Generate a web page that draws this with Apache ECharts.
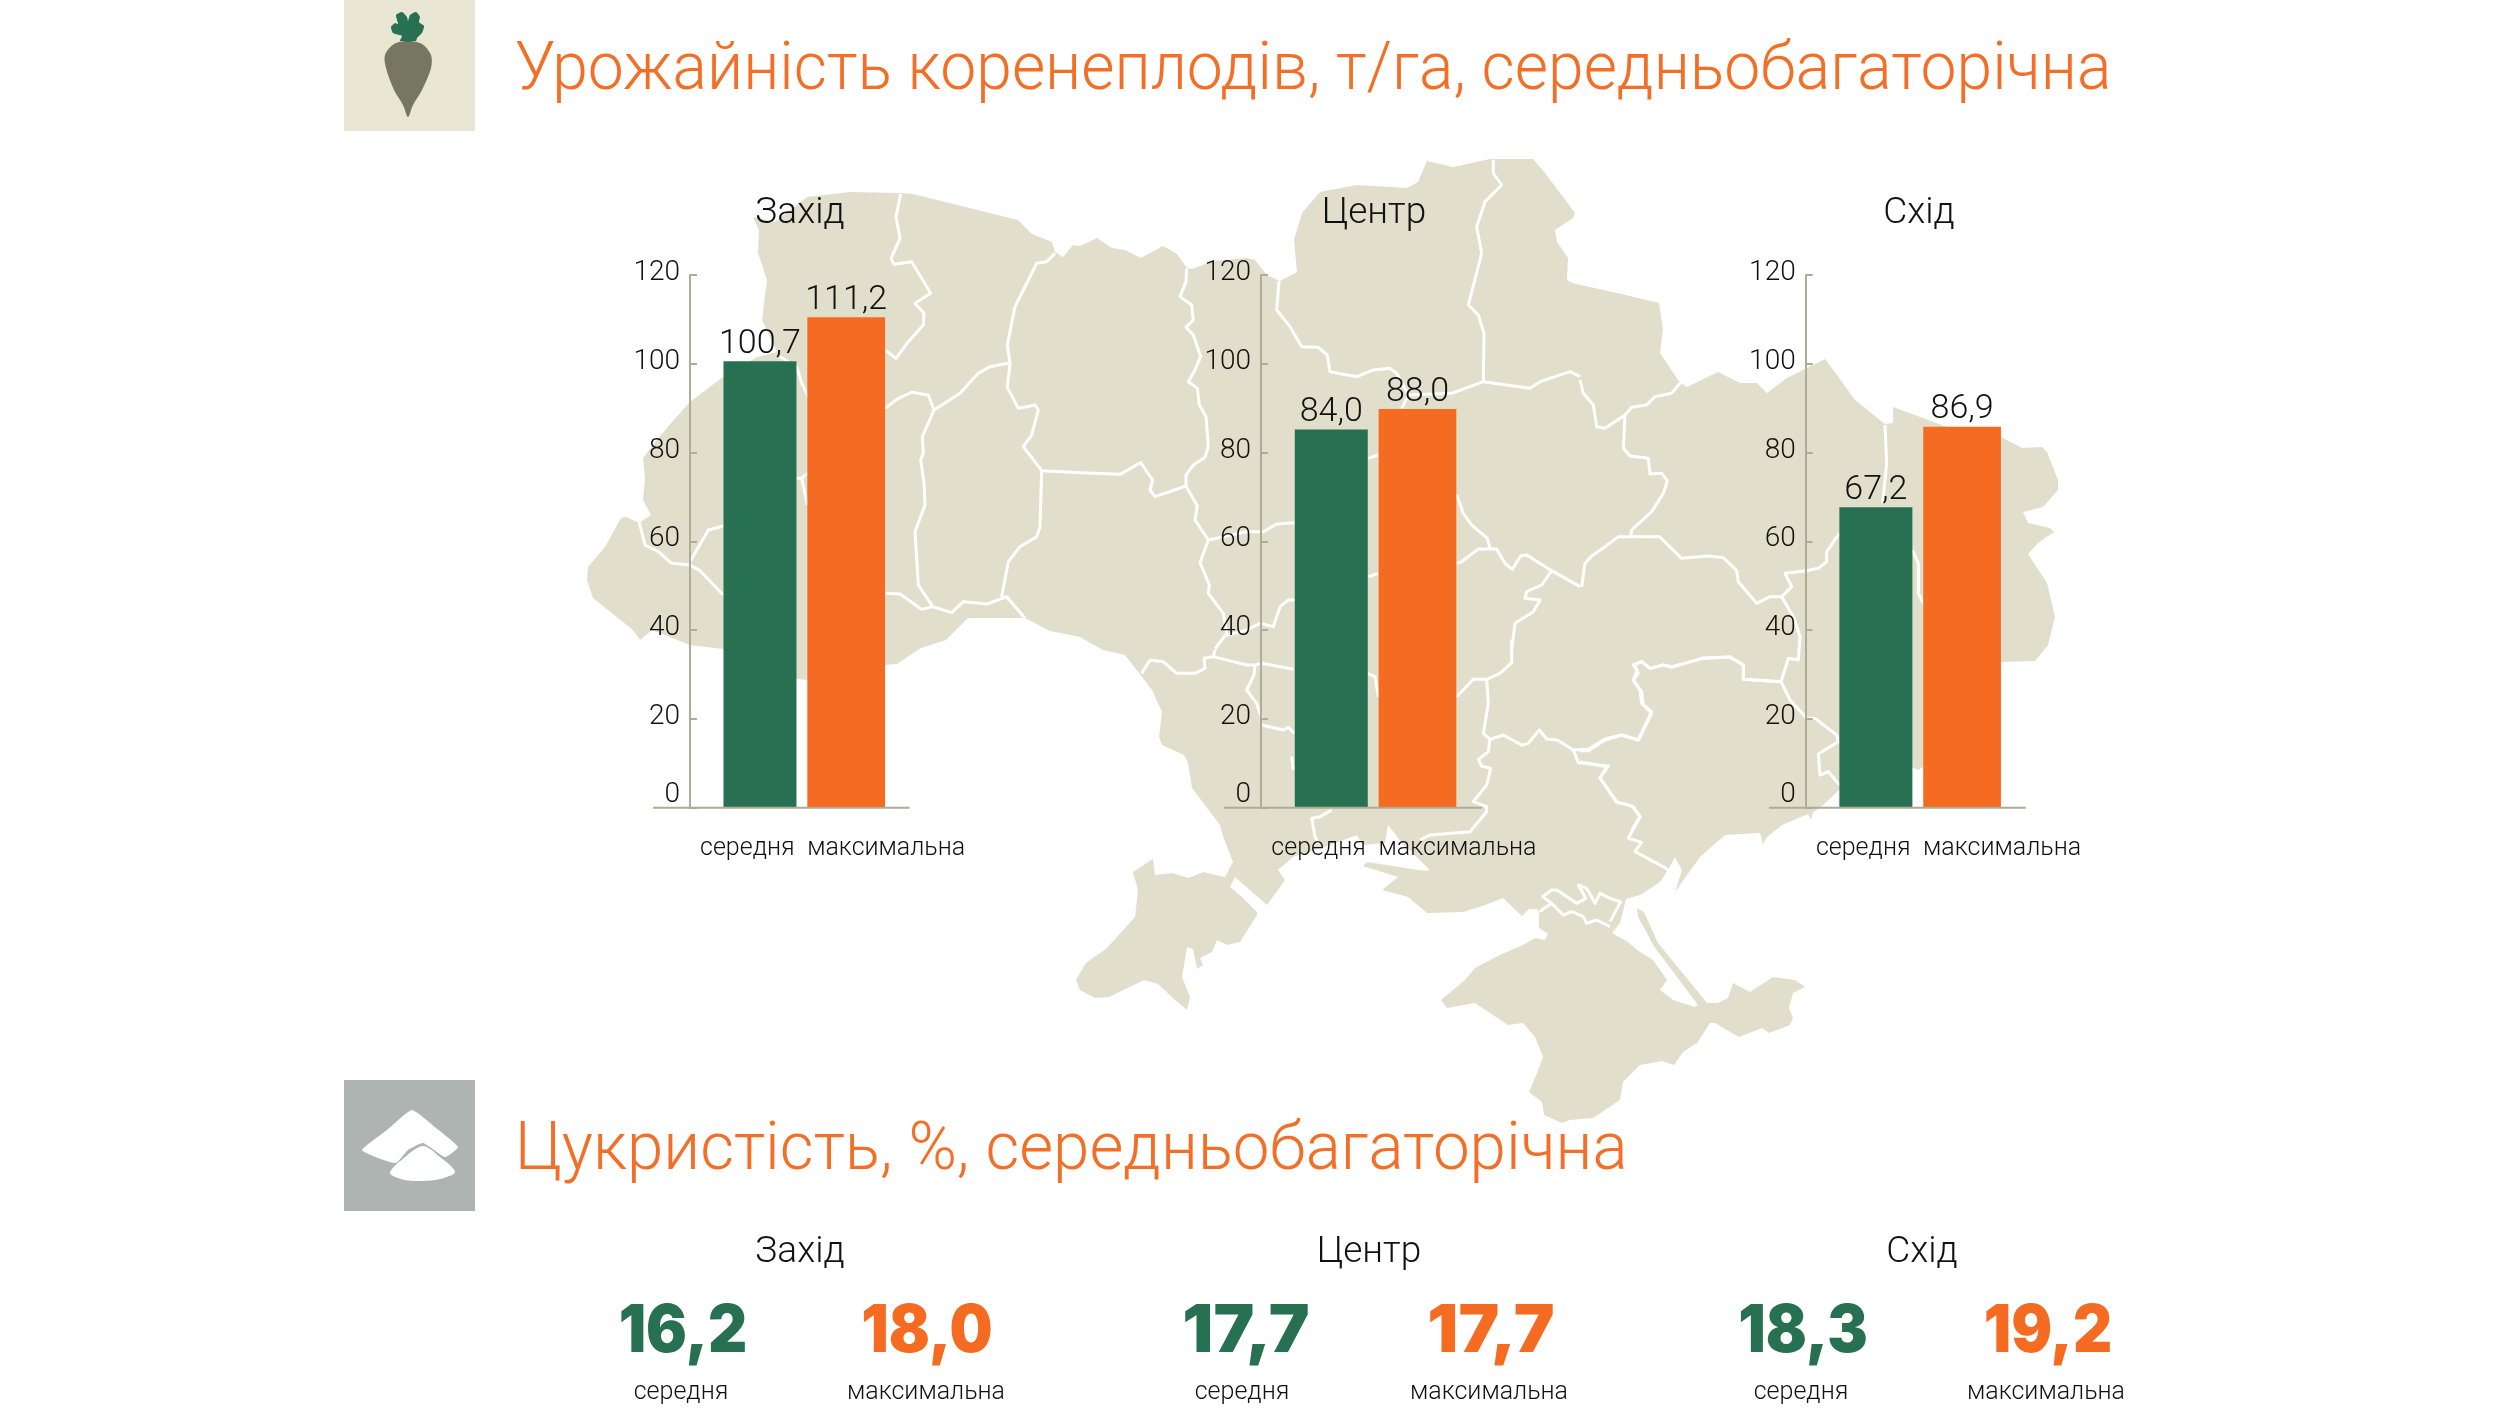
<!DOCTYPE html>
<html>
<head>
<meta charset="utf-8">
<title>Урожайність коренеплодів</title>
<script src="https://cdn.jsdelivr.net/npm/echarts@6/dist/echarts.min.js"></script>
<style>
    html, body { margin: 0; padding: 0; background: #fff; }
    #main { width: 2500px; height: 1408px; }
</style>
</head>
<body>
<div id="main"></div>
<script>
// bar heights as they are drawn in the picture, printed labels are kept apart
var categories = ['середня', 'максимальна'];
var regions = ['Захід', 'Центр', 'Схід'];
var yTicks = [0, 20, 40, 60, 80, 100, 120];
var zakhidBars = [100.6, 110.5];
var tsentrBars = [85.2, 89.8];
var skhidBars = [67.7, 85.8];
var zakhidLabels = ['100,7', '111,2'];
var tsentrLabels = ['84,0', '88,0'];
var skhidLabels = ['67,2', '86,9'];
var sugarAvg = ['16,2', '17,7', '18,3'];
var sugarMax = ['18,0', '17,7', '19,2'];

var GREEN = '#277052', ORANGE = '#f46b21', LAND = '#e1dfcb', AXIS = '#aeab97', INK = '#111111';
var LIGHT = 'Roboto';

// контур карти (пікселі)
var landMain = [[587,580],[588,567],[605,547],[621,518],[626,517],[639,523],[651,515],[643,500],[645,478],[643,458],[657,440],[672,422],[690,402],[723,377],[757,357],[777,352],[762,320],[767,280],[758,253],[759,230],[753,217],[775,222],[807,197],[850,192],[900,193],[913,194],[1018,220],[1032,234],[1052,242],[1055,252],[1063,257],[1073,245],[1080,246],[1097,238],[1112,248],[1125,250],[1141,258],[1163,246],[1177,254],[1187,268],[1192,269],[1213,261],[1247,258],[1255,260],[1267,275],[1280,281],[1297,272],[1294,240],[1302,213],[1320,192],[1357,185],[1407,188],[1418,182],[1427,161],[1453,167],[1490,159],[1533,159],[1545,173],[1575,213],[1573,218],[1555,230],[1557,242],[1568,258],[1567,280],[1572,283],[1617,293],[1659,303],[1663,330],[1660,353],[1680,383],[1687,387],[1718,372],[1740,383],[1757,383],[1767,393],[1787,378],[1807,368],[1825,359],[1837,375],[1855,400],[1885,424],[1893,423],[1893,407],[1923,418],[1947,427],[2001,437],[2022,448],[2042,447],[2047,452],[2058,480],[2058,490],[2043,507],[2023,512],[2028,523],[2050,528],[2054,532],[2038,543],[2028,554],[2047,583],[2055,617],[2048,645],[2035,661],[2001,662],[1923,767],[1918,770],[1912,767],[1839,790],[1820,808],[1813,812],[1811,820],[1808,814],[1782,825],[1767,837],[1763,844],[1760,833],[1725,835],[1700,857],[1675,892],[1682,870],[1675,857],[1668,870],[1660,882],[1640,895],[1626,899],[1620,923],[1612,933],[1600,936],[1552,936],[1539,928],[1539,913],[1537,909],[1529,909],[1522,916],[1503,898],[1485,905],[1463,912],[1427,913],[1408,897],[1382,890],[1398,877],[1363,866],[1367,862],[1425,871],[1430,870],[1402,843],[1388,825],[1385,843],[1363,845],[1357,835],[1330,845],[1293,857],[1278,870],[1285,880],[1267,905],[1235,877],[1230,887],[1243,898],[1257,912],[1257,915],[1240,942],[1227,945],[1217,940],[1212,952],[1200,958],[1203,965],[1197,969],[1193,949],[1187,947],[1182,977],[1190,997],[1187,1010],[1175,1000],[1158,984],[1144,980],[1109,997],[1095,998],[1080,990],[1076,980],[1086,963],[1107,948],[1135,917],[1138,890],[1133,872],[1153,859],[1155,875],[1172,873],[1189,878],[1203,872],[1225,877],[1233,862],[1222,833],[1220,825],[1192,788],[1188,763],[1184,755],[1162,745],[1159,737],[1162,712],[1152,690],[1125,655],[1103,650],[1080,637],[1050,631],[1025,618],[968,618],[946,640],[921,648],[897,664],[884,665],[807,680],[797,679],[723,649],[690,645],[652,630],[640,640],[633,630],[593,598]];
var landCrimea = [[1552,925],[1545,940],[1535,938],[1523,945],[1500,955],[1475,968],[1465,980],[1441,1000],[1447,1008],[1475,1003],[1508,1025],[1523,1023],[1535,1037],[1543,1057],[1537,1073],[1529,1092],[1542,1102],[1544,1115],[1562,1123],[1570,1120],[1593,1118],[1620,1100],[1623,1082],[1640,1065],[1662,1061],[1674,1065],[1683,1052],[1697,1043],[1710,1023],[1715,1023],[1739,1037],[1762,1028],[1769,1033],[1790,1025],[1793,1018],[1789,1008],[1793,993],[1805,987],[1795,980],[1773,977],[1750,992],[1733,983],[1728,998],[1718,1003],[1707,1003],[1658,943],[1644,912],[1637,908],[1638,917],[1647,933],[1653,945],[1698,1005],[1695,1007],[1673,1000],[1660,990],[1667,980],[1653,960],[1637,950],[1628,942],[1612,933],[1608,920]];

// межі областей: [x0, y0 кропу, точки у кропі з масштабом 3]
var borderTraces = [
    [580, 150, [
        [[962,132],[948,200],[960,265],[933,325],[942,343],[995,335],[1052,430],[1005,460],[1032,490],[1030,525],[985,575],[948,625],[915,600]],
        [[600,620],[650,650],[665,700],[685,740]],
        [[915,775],[955,745],[995,727],[1045,735],[1062,780],[1140,730],[1195,670],[1230,650],[1285,640]],
        [[1425,310],[1400,335],[1370,340],[1330,420],[1305,470],[1282,585],[1290,640],[1282,712],[1315,775],[1365,765],[1375,780],[1355,855],[1330,890],[1385,962],[1500,968]],
        [[1062,780],[1027,860],[1030,910],[1022,930],[1032,1000],[1035,1065],[1005,1145],[1015,1305],[1058,1370]],
        [[1385,962],[1380,1130],[1370,1160],[1320,1190],[1285,1235],[1265,1340]],
        [[915,1330],[960,1332],[1025,1378],[1058,1370],[1115,1388],[1150,1355],[1222,1362],[1280,1340],[1335,1405]],
        [[178,1118],[195,1185],[235,1205],[275,1240],[330,1245],[360,1262],[430,1335]],
        [[330,1235],[385,1140],[430,1128]],
        [[650,985],[665,985],[682,970]],
        [[665,985],[682,1065]]
    ]],
    [1080, 150, [
        [[0,968],[120,973],[182,938],[218,990],[210,1020],[225,1040],[318,1008]],
        [[320,355],[318,395],[300,440],[335,465],[340,510],[318,532],[340,555],[362,620],[345,660],[325,695],[352,715],[358,765],[378,800],[385,890],[375,922],[340,945],[318,975],[318,1008],[352,1068],[345,1110],[385,1170],[360,1238],[388,1305],[385,1330],[430,1390],[440,1450],[405,1497]],
        [[645,1350],[625,1350],[600,1370],[580,1430],[540,1420],[500,1440],[440,1457]],
        [[385,1170],[500,1145],[550,1145],[590,1122],[645,1118]],
        [[597,393],[590,480],[630,530],[665,590],[715,592],[742,615],[750,665],[830,680],[880,660],[930,655],[950,670],[985,735],[965,775]],
        [[985,735],[1115,730],[1210,695],[1350,715],[1380,695],[1470,665],[1500,680]],
        [[1240,30],[1240,70],[1265,105],[1215,155],[1190,230],[1205,310],[1165,465],[1195,495],[1212,550],[1210,695]],
        [[1130,1035],[1150,1090],[1175,1125],[1222,1165],[1230,1195]],
        [[1130,1240],[1145,1235],[1195,1197],[1250,1197],[1275,1240],[1297,1258],[1322,1218],[1340,1215],[1415,1262],[1500,1310]],
        [[1415,1262],[1385,1305],[1340,1325],[1335,1345],[1380,1350],[1360,1385],[1305,1420],[1295,1500]],
        [[865,925],[895,915]],
        [[865,1280],[895,1270]]
    ]],
    [1580, 330, [
        [[0,150],[10,190],[40,225],[50,290],[75,295],[135,255],[155,232],[200,225],[225,200],[275,190],[300,160]],
        [[135,255],[130,355],[150,378],[205,385],[210,432],[245,430],[262,452],[250,490],[215,545],[155,600],[152,620]],
        [[152,620],[115,620],[75,650],[35,678],[15,700],[5,770]],
        [[152,620],[238,620],[305,685],[385,678],[430,683],[470,722],[475,755],[530,820],[570,800],[605,800],[635,770],[615,730],[680,722],[715,715],[740,695],[740,665],[778,610]],
        [[605,800],[640,860],[660,920],[655,990],[625,985],[603,1055],[490,1048],[490,1005],[450,982],[365,985],[275,1012],[250,1005],[210,1015],[185,995],[162,1005],[175,1030],[160,1050],[185,1085],[190,1125],[215,1150],[175,1230],[125,1215],[75,1230],[25,1262],[0,1262]],
        [[603,1055],[630,1110],[680,1165],[705,1165],[770,1215],[775,1235],[715,1272],[720,1335],[745,1325],[778,1365]],
        [[915,285],[920,400],[908,520]],
        [[997,660],[1015,700],[1015,790],[1030,820]],
        [[0,1295],[80,1310],[60,1345],[110,1415],[160,1430],[180,1460],[155,1500]]
    ]],
    [1420, 640, [
        [[110,170],[160,118],[200,118],[240,100],[275,68],[275,0]],
        [[200,118],[205,190],[190,280],[210,298],[250,285],[305,315],[325,310],[358,270],[380,297],[412,300],[460,330],[505,328],[555,297],[605,285],[655,300],[695,215],[665,190],[660,150],[640,120],[652,90],[640,75],[665,65],[690,85],[730,75],[755,80],[850,55],[930,50],[970,75],[970,118],[1082,125]],
        [[210,298],[205,335],[175,358],[185,378],[212,385],[200,435],[160,485],[200,500],[200,515],[150,575],[30,585],[0,600]],
        [[460,330],[475,368],[565,378],[540,412],[590,487],[635,497],[660,530],[625,595],[665,607],[645,635],[735,683],[745,690]],
        [[358,815],[395,790],[430,825],[455,815],[490,830],[500,850],[530,840],[570,860]],
        [[395,790],[368,770],[395,750],[410,750],[470,790],[497,775],[475,735],[500,745],[525,790],[540,760],[570,775],[602,785],[570,845]]
    ]],
    [1080, 640, [
        [[185,100],[210,60],[250,65],[290,100],[345,100],[375,85],[372,55],[400,50],[500,75],[525,75],[545,70],[640,88]],
        [[400,50],[405,30]],
        [[525,75],[522,105],[500,150],[530,190],[545,235]],
        [[545,255],[610,270],[625,262],[643,280]],
        [[635,350],[640,390]],
        [[862,100],[885,110],[895,170]],
        [[755,510],[720,530],[695,535],[705,590],[715,610]]
    ]]
];

var graphics = [];
function addShape(type, shape, style, z) {
    graphics.push({ type: type, z: z, silent: true, shape: shape, style: style });
}
function addText(x, y, str, size, color, opts) {
    opts = opts || {};
    graphics.push({
        type: 'text', z: 5, silent: true, x: x, y: y, scaleX: opts.sx || 1,
        style: {
            text: str, fill: color, align: opts.align || 'center', verticalAlign: 'middle',
            font: (opts.weight || 300) + ' ' + size + 'px ' + (opts.family || LIGHT)
        }
    });
}

// карта
addShape('polygon', { points: landMain }, { fill: LAND }, -10);
addShape('polygon', { points: landCrimea }, { fill: LAND }, -10);
borderTraces.forEach(function (t) {
    t[2].forEach(function (line) {
        var pts = line.map(function (p) { return [t[0] + p[0] / 3, t[1] + p[1] / 3]; });
        addShape('polyline', { points: pts }, { stroke: '#fff', fill: null, lineWidth: 3, lineJoin: 'round' }, -9);
    });
});

// іконки
addShape('rect', { x: 344, y: 0, width: 131, height: 131 }, { fill: '#e9e6d3' }, 1);
addShape('polygon', { points: [[408,41],[394,44],[385,55],[386,68],[394,90],[403,105],[408,117],[413,105],[422,90],[431,68],[431,55],[422,44]], smooth: 0.3 }, { fill: '#777660' }, 2);
addShape('polygon', { points: [[400,41],[402,36],[393,33],[391,27],[395,23],[398,24],[396,15],[402,12],[407,17],[408,21],[410,15],[416,12],[420,17],[419,22],[424,26],[422,33],[417,38],[416,41]], smooth: 0.2 }, { fill: GREEN }, 2);
addShape('rect', { x: 344, y: 1080, width: 131, height: 131 }, { fill: '#aeb4b2' }, 1);
addShape('polygon', { points: [[412,1110],[387,1130],[362,1150],[378,1158],[396,1163],[408,1150],[423,1143],[445,1157],[458,1147],[436,1128]], smooth: 0.15 }, { fill: '#fff' }, 2);
addShape('polygon', { points: [[423,1146],[405,1157],[390,1173],[405,1180],[422,1181],[440,1179],[455,1172],[440,1157]], smooth: 0.3 }, { fill: '#fff' }, 2);

// заголовки
addText(515, 72, 'Урожайність коренеплодів, т/га, середньобагаторічна', 66, '#f36f27', { align: 'left', sx: 0.974 });
addText(515, 1152, 'Цукристість, %, середньобагаторічна', 66, '#f36f27', { align: 'left', sx: 0.993 });

var titleX = [800, 1374, 1919];
var sugarTitleX = [800, 1369, 1922];
var avgX = [683, 1246, 1803];
var maxX = [927, 1491, 2048];
var avgSubX = [681, 1242, 1801];
var maxSubX = [926, 1489, 2046];
var bigSx = [0.92, 1.04, 0.92]; // "17,7" в Inter вужче за інші числа
regions.forEach(function (r, i) {
    addText(titleX[i], 214, r, 37, INK);
    addText(sugarTitleX[i], 1253, r, 37, INK);
    addText(avgX[i], 1332, sugarAvg[i], 66, GREEN, { weight: 900, family: 'Inter', sx: bigSx[i] });
    addText(maxX[i], 1332, sugarMax[i], 66, ORANGE, { weight: 900, family: 'Inter', sx: bigSx[i] });
    addText(avgSubX[i], 1393, categories[0], 25, INK);
    addText(maxSubX[i], 1393, categories[1], 25, INK);
});

// три графіки: вісь Y і базова лінія зсунуті відносно смуг категорій
var panels = [
    { bars: zakhidBars, labels: zakhidLabels, axisX: 690, left: 720.4, right: 888.1, base: [653, 909.5] },
    { bars: tsentrBars, labels: tsentrLabels, axisX: 1261, left: 1291.7, right: 1459.4, base: [1224, 1482] },
    { bars: skhidBars, labels: skhidLabels, axisX: 1805.7, left: 1836.3, right: 2004, base: [1769, 2025.7] }
];
var TOP = 275, BOTTOM = 807.8;

var grid = [], xAxis = [], yAxis = [], series = [];
panels.forEach(function (p, i) {
    grid.push({ left: p.left, width: p.right - p.left, top: TOP, height: BOTTOM - TOP });
    xAxis.push({
        type: 'category', gridIndex: i,
        data: [
            { value: categories[0], textStyle: { padding: [0, 30, 0, 0] } },
            { value: categories[1], textStyle: { padding: [0, 0, 0, 80] } }
        ],
        axisLine: { show: false }, axisTick: { show: false },
        axisLabel: { interval: 0, margin: 28, color: INK, fontSize: 25, fontFamily: LIGHT, fontWeight: 300, hideOverlap: false }
    });
    yAxis.push({
        type: 'value', gridIndex: i, min: yTicks[0], max: yTicks[yTicks.length - 1], interval: 20,
        offset: p.left - p.axisX,
        splitLine: { show: false },
        axisLine: { show: true, lineStyle: { color: AXIS, width: 2 } },
        axisTick: { show: true, inside: true, length: 7, lineStyle: { color: AXIS, width: 2 } },
        axisLabel: {
            margin: 10, color: INK, fontSize: 28, fontFamily: LIGHT, fontWeight: 300,
            padding: [0, 0, 4, 0],
            formatter: function (v) { return v === 0 ? '{z|0}' : String(v); },
            rich: { z: { color: INK, fontSize: 28, fontFamily: LIGHT, fontWeight: 300, padding: [0, 0, 22, 0] } }
        }
    });
    [0, 1].forEach(function (k) {
        series.push({
            type: 'bar', xAxisIndex: i, yAxisIndex: i,
            barWidth: k === 0 ? 73 : 77.7, barGap: '-100%',
            itemStyle: { color: k === 0 ? GREEN : ORANGE },
            data: k === 0 ? [p.bars[0], null] : [null, p.bars[1]],
            label: {
                show: true, position: 'top', distance: 0, color: INK, fontSize: 34, fontFamily: LIGHT, fontWeight: 300,
                formatter: function () { return p.labels[k]; }
            }
        });
    });
    addShape('line', { x1: p.base[0], y1: BOTTOM, x2: p.base[1], y2: BOTTOM }, { stroke: AXIS, lineWidth: 2 }, 3);
});

var option = {
    animation: false,
    backgroundColor: '#fff',
    grid: grid, xAxis: xAxis, yAxis: yAxis, series: series,
    graphic: { elements: graphics }
};
var myChart = echarts.init(document.getElementById('main'));
myChart.setOption(option);
</script>
</body>
</html>
